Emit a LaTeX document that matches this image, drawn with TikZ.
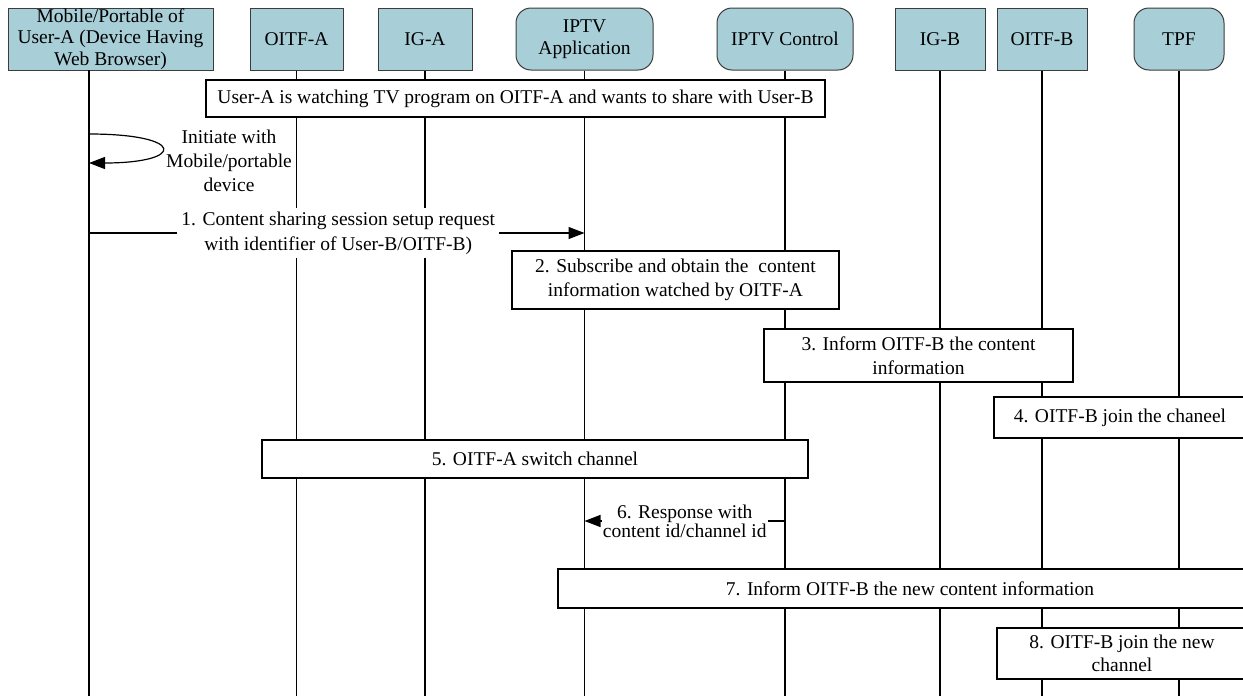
\documentclass[tikz,border=0pt]{standalone}
\usepackage{fontspec}
\setmainfont{LiberationSerif}[Extension=.ttf, UprightFont=*-Regular, BoldFont=*-Bold, ItalicFont=*-Italic, BoldItalicFont=*-BoldItalic]
\usetikzlibrary{arrows.meta,positioning,calc}
\definecolor{headfill}{RGB}{168,206,216}
\definecolor{headline}{RGB}{60,60,60}
\tikzset{
    head/.style={draw=headline, fill=headfill, line width=1pt, inner sep=0pt, align=center,
        minimum height=62pt, font=\rmfamily\fontsize{19.5}{21.5}\selectfont},
    roundhead/.style={head, rounded corners=15pt},
    life/.style={line width=1.2pt},
    note/.style={draw, fill=white, line width=1.2pt, inner sep=0pt, align=center},
    msg/.style={line width=1.2pt, -{Triangle[length=16pt,width=12pt]}},
}
\begin{document}
\begin{tikzpicture}[x=1pt, y=-1pt, font=\rmfamily\fontsize{19.5}{23.5}\selectfont]
        \useasboundingbox (0,0) rectangle (1243,696);
        \clip (0,0) rectangle (1243,696);
        % Draw header boxes
        \node[head, minimum width=205pt] (mob) at (110.5,39) {Mobile/Portable of\\User-A (Device Having\\Web Browser)};
        \node[head, minimum width=93pt] (oitfa) at (296.5,39) {OITF-A};
        \node[head, minimum width=94pt] (iga) at (425,39) {IG-A};
        \node[roundhead, minimum width=137pt] (app) at (584.5,39) {IPTV\\Application};
        \node[roundhead, minimum width=136pt] (ctrl) at (785,39) {IPTV Control};
        \node[head, minimum width=90pt] (igb) at (940,39) {IG-B};
        \node[head, minimum width=90pt] (oitfb) at (1042,39) {OITF-B};
        \node[roundhead, minimum width=90pt] (tpf) at (1179,39) {TPF};
        % Draw lifelines
        \coordinate (bot) at (0,700);
        \coordinate (mobl) at (89,70);
        \draw[life] (mobl) -- (mobl |- bot);
        \foreach \n in {oitfa,iga,app,ctrl,igb,oitfb,tpf}
            \draw[life] (\n.south) -- (\n.south |- bot);
        % Draw notes over lifelines
        \node[note, minimum width=619pt, minimum height=37pt] (watch) at (515.5,98.5) {User-A is watching TV program on OITF-A and wants to share with User-B};
        \node[note, minimum width=327pt, minimum height=58pt] (sub) at (675.5,280) {2. Subscribe and obtain the\ \ content\\information watched by OITF-A};
        \node[note, minimum width=309pt, minimum height=53pt] (inform) at (918.5,355.5) {3. Inform OITF-B the content\\information};
        \node[note, minimum width=252pt, minimum height=41pt] (join) at (1120,417.5) {4. OITF-B join the chaneel};
        \node[note, minimum width=546pt, minimum height=38pt] (switch) at (535,459) {5. OITF-A switch channel};
        \node[note, minimum width=704pt, minimum height=39pt] (newinfo) at (910,588.5) {7. Inform OITF-B the new content information};
        \node[note, minimum width=250pt, minimum height=51pt] (newjoin) at (1122,653.5) {8. OITF-B join the new\\channel};
        % Self call on the mobile device
        \coordinate (selfa) at (mobl |- 0,134);
        \coordinate (selfb) at (mobl |- 0,163);
        \draw[msg] (selfa) .. controls (186,134) and (186,163) .. (selfb);
        \node[align=center, font=\rmfamily\fontsize{19.5}{24}\selectfont] (initlbl) at (229,161) {Initiate with\\Mobile/portable\\device};
        % Messages
        \coordinate (reqa) at (mobl |- 0,233);
        \coordinate (reqb) at (app.south |- 0,233);
        \draw[msg] (reqa) -- node[pos=0.503, fill=white, inner sep=4pt, align=center, font=\rmfamily\fontsize{19.5}{25}\selectfont] (reqlbl) {1. Content sharing session setup request\\with identifier of User-B/OITF-B)} (reqb);
        \coordinate (resa) at (ctrl.south |- 0,521);
        \coordinate (resb) at (app.south |- 0,521);
        \draw[msg] (resa) -- node[midway, fill=white, inner sep=1pt, align=center, font=\rmfamily\fontsize{19.5}{15}\selectfont] (reslbl) {6. Response with\\content id/channel id} (resb);
    \end{tikzpicture}
\end{document}
